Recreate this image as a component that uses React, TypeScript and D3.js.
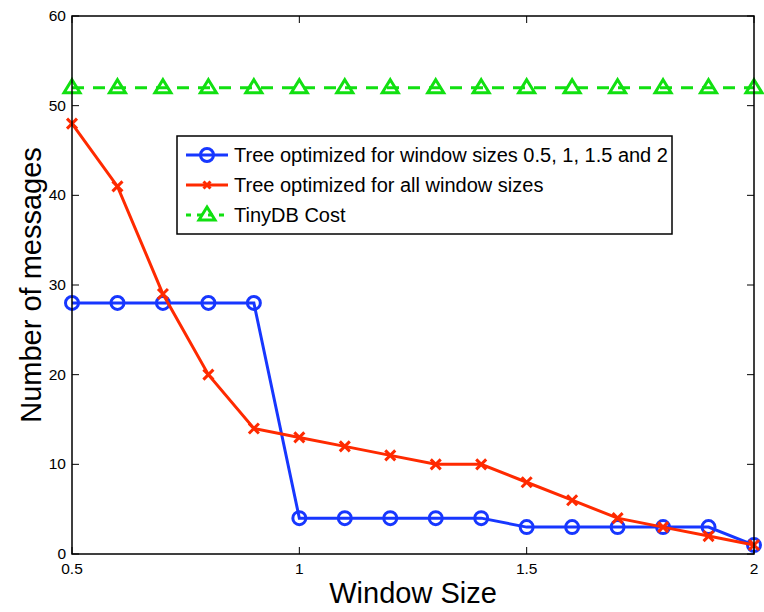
import React, { useEffect, useRef } from "react";
import * as d3 from "d3";

const windowSizes = [0.5, 0.6, 0.7, 0.8, 0.9, 1.0, 1.1, 1.2, 1.3, 1.4, 1.5, 1.6, 1.7, 1.8, 1.9, 2.0];
const treeSelected = [28, 28, 28, 28, 28, 4, 4, 4, 4, 4, 3, 3, 3, 3, 3, 1];
const treeAll = [48, 41, 29, 20, 14, 13, 12, 11, 10, 10, 8, 6, 4, 3, 2, 1];
const tinyDB = [52, 52, 52, 52, 52, 52, 52, 52, 52, 52, 52, 52, 52, 52, 52, 52];
const xTicks = [0.5, 1, 1.5, 2];
const yTicks = [0, 10, 20, 30, 40, 50, 60];
const seriesNames = [
  "Tree optimized for window sizes 0.5, 1, 1.5 and 2",
  "Tree optimized for all window sizes",
  "TinyDB Cost",
];

const W = 764, H = 612;
const M = { left: 72, right: 754, top: 16, bottom: 554 };
const BLUE = "#1737ff", RED = "#ff2a00", GREEN = "#11e011";
const FONT = "'Liberation Sans', Arial, Helvetica, sans-serif";

export default function App() {
  const ref = useRef<SVGSVGElement>(null);
  useEffect(() => {
    const svg = d3.select(ref.current);
    svg.selectAll("*").remove();
    const x = d3.scaleLinear().domain([0.5, 2]).range([M.left, M.right]);
    const y = d3.scaleLinear().domain([0, 60]).range([M.bottom, M.top]);

    svg.append("rect").attr("width", W).attr("height", H).attr("fill", "#fff");

    const mk = (vals: number[]) =>
      d3.line<number>().x((_, i) => x(windowSizes[i])).y((v) => y(v))(vals) as string;

    const drawCircle = (g: any, cx: number, cy: number, c: string) =>
      g.append("circle").attr("cx", cx).attr("cy", cy).attr("r", 6.5).attr("fill", "none").attr("stroke", c).attr("stroke-width", 3);
    const drawX = (g: any, cx: number, cy: number, c: string, s = 5) =>
      g.append("path").attr("d", `M${cx - s},${cy - s}L${cx + s},${cy + s}M${cx - s},${cy + s}L${cx + s},${cy - s}`).attr("stroke", c).attr("stroke-width", 3);
    const drawTri = (g: any, cx: number, cy: number, c: string) =>
      g.append("path").attr("d", `M${cx},${cy - 8}L${cx + 8},${cy + 5}L${cx - 8},${cy + 5}Z`).attr("fill", "none").attr("stroke", c).attr("stroke-width", 3);

    const g = svg.append("g");
    g.append("path").attr("d", mk(tinyDB)).attr("fill", "none").attr("stroke", GREEN).attr("stroke-width", 3).attr("stroke-dasharray", "12,9");
    tinyDB.forEach((v, i) => drawTri(g, x(windowSizes[i]), y(v), GREEN));
    g.append("path").attr("d", mk(treeSelected)).attr("fill", "none").attr("stroke", BLUE).attr("stroke-width", 3);
    treeSelected.forEach((v, i) => drawCircle(g, x(windowSizes[i]), y(v), BLUE));
    g.append("path").attr("d", mk(treeAll)).attr("fill", "none").attr("stroke", RED).attr("stroke-width", 3);
    treeAll.forEach((v, i) => drawX(g, x(windowSizes[i]), y(v), RED));

    svg.append("rect").attr("x", M.left).attr("y", M.top).attr("width", M.right - M.left).attr("height", M.bottom - M.top)
      .attr("fill", "none").attr("stroke", "#000").attr("stroke-width", 1.5);

    const tl = 7;
    yTicks.forEach((t) => {
      svg.append("line").attr("x1", M.left).attr("x2", M.left + tl).attr("y1", y(t)).attr("y2", y(t)).attr("stroke", "#000");
      svg.append("line").attr("x1", M.right).attr("x2", M.right - tl).attr("y1", y(t)).attr("y2", y(t)).attr("stroke", "#000");
      svg.append("text").attr("x", M.left - 6).attr("y", y(t) + 5).attr("text-anchor", "end")
        .attr("font-family", FONT).attr("font-size", 15.5).text(String(t));
    });
    xTicks.forEach((t) => {
      svg.append("line").attr("x1", x(t)).attr("x2", x(t)).attr("y1", M.bottom).attr("y2", M.bottom - tl).attr("stroke", "#000");
      svg.append("line").attr("x1", x(t)).attr("x2", x(t)).attr("y1", M.top).attr("y2", M.top + tl).attr("stroke", "#000");
      svg.append("text").attr("x", x(t)).attr("y", M.bottom + 20).attr("text-anchor", "middle")
        .attr("font-family", FONT).attr("font-size", 15.5).text(String(t));
    });

    svg.append("text").attr("x", (M.left + M.right) / 2).attr("y", 603).attr("text-anchor", "middle")
      .attr("font-family", FONT).attr("font-size", 29).text("Window Size");
    svg.append("text").attr("transform", `translate(41,${(M.top + M.bottom) / 2}) rotate(-90)`).attr("text-anchor", "middle")
      .attr("font-family", FONT).attr("font-size", 29).text("Number of messages");

    const lg = svg.append("g");
    lg.append("rect").attr("x", 177).attr("y", 136).attr("width", 495).attr("height", 98).attr("fill", "#fff").attr("stroke", "#000").attr("stroke-width", 1.5);
    const rows = [155, 185, 215];
    const cols = [BLUE, RED, GREEN];
    rows.forEach((ry, i) => {
      const line = lg.append("line").attr("x1", 186).attr("x2", 228).attr("y1", ry).attr("y2", ry).attr("stroke", cols[i]).attr("stroke-width", 3);
      if (i === 2) line.attr("stroke-dasharray", "5,6");
      if (i === 0) drawCircle(lg, 207, ry, BLUE);
      if (i === 1) drawX(lg, 207, ry, RED, 3.5);
      if (i === 2) drawTri(lg, 207, ry, GREEN);
      lg.append("text").attr("x", 234).attr("y", ry + 7).attr("font-family", FONT).attr("font-size", 20).text(seriesNames[i]);
    });
  }, []);
  return <svg ref={ref} width={W} height={H} style={{ display: "block", position: "absolute", left: 0, top: 0 }} />;
}
